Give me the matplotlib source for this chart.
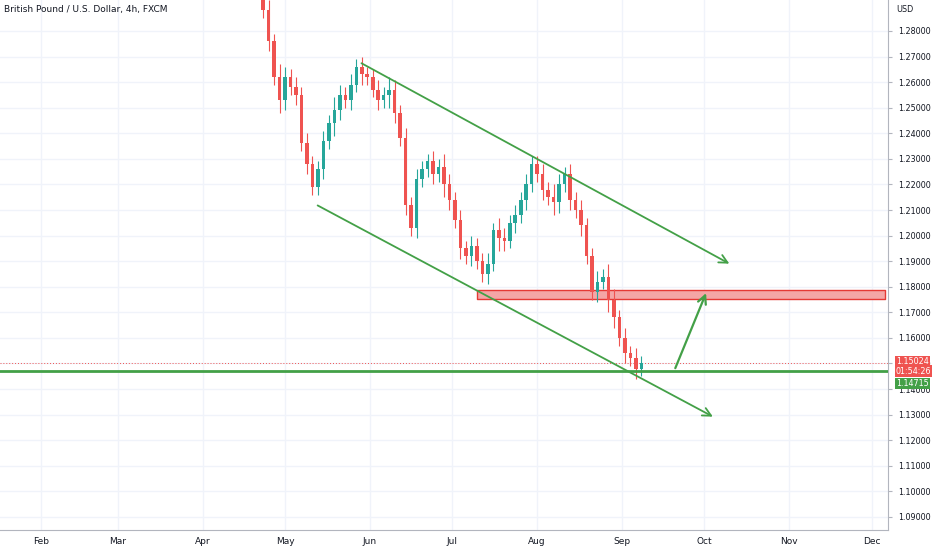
import matplotlib.pyplot as plt
import matplotlib.dates as mdates
import numpy as np
import datetime as dt

# 2-day bars
start = dt.date(2022, 4, 23)
closes = [1.288, 1.276, 1.262, 1.253, 1.262, 1.258, 1.255, 1.236, 1.228, 1.219,
          1.226, 1.237, 1.244, 1.249, 1.255, 1.253, 1.259, 1.266, 1.263, 1.262,
          1.257, 1.253, 1.255, 1.257, 1.248, 1.238, 1.212, 1.203, 1.222, 1.226,
          1.229, 1.224, 1.227, 1.220, 1.214, 1.206, 1.195, 1.192, 1.196, 1.190,
          1.185, 1.189, 1.202, 1.199, 1.198, 1.205, 1.208, 1.214, 1.220, 1.228,
          1.224, 1.218, 1.215, 1.213, 1.220, 1.224, 1.214, 1.210, 1.204, 1.192,
          1.178, 1.182, 1.184, 1.175, 1.168, 1.160, 1.154, 1.152, 1.148, 1.150]
first_open = 1.292
wicks = [0.003, 0.004, 0.003, 0.005, 0.004, 0.003, 0.004, 0.003, 0.004, 0.003]

last_price = 1.15024
support = 1.14715
zone = (1.1752, 1.1787)

up_c, dn_c, grn = "#26a69a", "#ef5350", "#43a047"

fig = plt.figure(figsize=(9.32, 5.5), dpi=100)
ax = fig.add_axes([0, 20 / 550, 888 / 932, 530 / 550])

dates = [mdates.date2num(start + dt.timedelta(days=2 * i)) for i in range(len(closes))]
opens = [first_open] + closes[:-1]
for i, (d, o, c) in enumerate(zip(dates, opens, closes)):
    col = up_c if c >= o else dn_c
    w = wicks[i % len(wicks)]
    ax.vlines(d, min(o, c) - w, max(o, c) + w, color=col, lw=0.8, zorder=3)
    ax.bar(d, max(abs(c - o), 0.0004), bottom=min(o, c), width=1.3, color=col, zorder=4)

D = lambda y, m, d: mdates.date2num(dt.date(y, m, d))

# channel lines with arrows
ax.annotate("", xy=(D(2022, 10, 11), 1.1885), xytext=(D(2022, 5, 28), 1.2679),
            arrowprops=dict(arrowstyle="->", color=grn, lw=1.3, mutation_scale=15), zorder=5)
ax.annotate("", xy=(D(2022, 10, 5), 1.1287), xytext=(D(2022, 5, 12), 1.2123),
            arrowprops=dict(arrowstyle="->", color=grn, lw=1.3, mutation_scale=15), zorder=5)
ax.annotate("", xy=(D(2022, 10, 2), 1.1785), xytext=(D(2022, 9, 20), support),
            arrowprops=dict(arrowstyle="->", color=grn, lw=1.6, mutation_scale=15), zorder=5)

ax.axhline(support, color=grn, lw=2, zorder=5)
ax.axhline(last_price, color=dn_c, lw=0.7, ls=(0, (1, 2)), zorder=2)
ax.fill_between([D(2022, 7, 10), D(2022, 12, 6)], zone[0], zone[1],
                facecolor="#f4a6a6", edgecolor="#e53935", lw=1, zorder=2)

ax.set_xlim(D(2022, 1, 17), D(2022, 12, 7))
ax.set_ylim(1.0849, 1.2921)
months = [dt.date(2022, m, 1) for m in range(2, 13)]
ax.set_xticks([mdates.date2num(m) for m in months])
ax.set_xticklabels([m.strftime("%b") for m in months], fontsize=6.5, color="#131722")
yt = np.arange(1.09, 1.2801, 0.01)
ax.yaxis.tick_right()
ax.set_yticks(yt)
ax.set_yticklabels([f"{v:.5f}" for v in yt], fontsize=5.8, color="#131722")
ax.tick_params(axis="y", length=3, color="#b2b5be", pad=4)
ax.tick_params(axis="x", length=0, pad=5)
ax.grid(color="#f0f3fa", lw=1)
ax.set_axisbelow(True)
for s in ["top", "left"]:
    ax.spines[s].set_visible(False)
for s in ["right", "bottom"]:
    ax.spines[s].set_color("#b2b5be")

ax.text(4 / 888, 0.99, "British Pound / U.S. Dollar, 4h, FXCM", transform=ax.transAxes,
        fontsize=6.5, va="top", color="#131722")
fig.text(896 / 932, 1 - 10 / 550, "USD", fontsize=5.8, va="center", color="#131722")

bbox = dict(boxstyle="square,pad=0.15", ec="none")
fig.text(896 / 932, 1 - 361.5 / 550, f"{last_price:.5f}", fontsize=5.8, color="white", va="center",
         bbox=dict(bbox, fc=dn_c), zorder=6)
fig.text(896 / 932, 1 - 371 / 550, "01:54:26", fontsize=5.8, color="white", va="center",
         bbox=dict(bbox, fc=dn_c), zorder=6)
fig.text(896 / 932, 1 - 383.5 / 550, f"{support:.5f}", fontsize=5.8, color="white", va="center",
         bbox=dict(bbox, fc=grn), zorder=6)

fig.savefig("out.png", dpi=100)
